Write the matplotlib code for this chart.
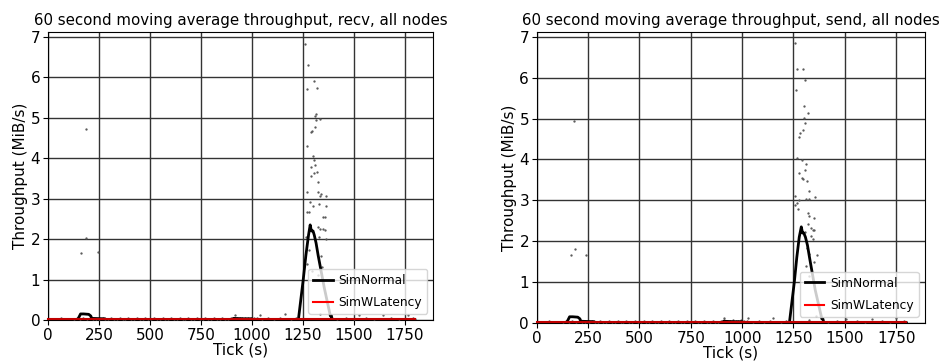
"""
60 second moving average throughput, recv and send, all nodes
"""

import matplotlib
matplotlib.use('Agg')
import matplotlib.pyplot as plt
import numpy as np

# moving average line, SimNormal
recvTicks = [0, 140, 150, 160, 175, 200, 210, 215, 280, 285, 900, 910, 960, 1000, 1010,
             1228, 1240, 1252, 1265, 1278, 1286, 1292, 1300, 1306, 1315, 1325, 1340, 1355,
             1370, 1385, 1390, 1395, 1800]
recvAvg = [0, 0, 0.05, 0.15, 0.15, 0.14, 0.1, 0.04, 0.03, 0, 0, 0.04, 0.03, 0.03, 0,
           0, 0.5, 1.0, 1.6, 2.1, 2.35, 2.2, 2.2, 2.1, 1.9, 1.6, 1.2, 0.8,
           0.45, 0.1, 0.1, 0, 0]
sendTicks = [0, 140, 150, 160, 175, 200, 210, 215, 280, 285, 900, 910, 960, 1000, 1010,
             1230, 1242, 1254, 1266, 1278, 1288, 1294, 1300, 1308, 1318, 1328, 1342, 1356,
             1372, 1388, 1393, 1398, 1800]
sendAvg = [0, 0, 0.05, 0.15, 0.15, 0.14, 0.1, 0.04, 0.03, 0, 0, 0.04, 0.03, 0.03, 0,
           0, 0.5, 1.0, 1.6, 2.1, 2.35, 2.2, 2.2, 2.1, 1.9, 1.6, 1.2, 0.8,
           0.45, 0.1, 0.1, 0, 0]

# moving average line, SimWLatency
latTicks = [0, 1800]
latAvg = [0.02, 0.02]

# instantaneous samples (dots)
recvDotT = [1261, 1275, 1304, 1270, 1319, 1316, 1311, 1336, 1314, 1308, 1288, 1293, 1271,
            1298, 1303, 1309, 1291, 1303, 1319, 1291, 1324, 1271, 1322, 1340, 1336, 1365,
            1283, 1327, 1362, 1298, 1270, 1278, 1347, 1357, 1324, 1332, 1349, 1357, 1265,
            1329, 1365, 1280, 1340, 1270, 1345, 1294, 1324, 1332, 1390,
            186, 188, 164, 245, 918, 1038, 1161, 1526, 1643, 1765]
recvDotV = [6.83, 6.30, 5.90, 5.71, 5.74, 5.08, 5.04, 4.97, 4.93, 4.76, 4.64, 4.66, 4.29,
            4.06, 3.96, 3.82, 3.77, 3.64, 3.65, 3.55, 3.40, 3.17, 3.17, 3.12, 3.06, 3.06,
            2.92, 2.87, 2.82, 2.81, 2.68, 2.66, 2.55, 2.54, 2.29, 2.26, 2.25, 2.23, 2.06,
            2.04, 2.01, 1.72, 1.57, 1.39, 1.32, 1.20, 1.12, 0.14, 0.12,
            4.72, 2.03, 1.66, 1.68, 0.13, 0.13, 0.15, 0.12, 0.12, 0.13]
sendDotT = [1255, 1266, 1294, 1306, 1261, 1302, 1321, 1302, 1305, 1295, 1282, 1277, 1265,
            1290, 1311, 1305, 1279, 1290, 1297, 1315, 1327, 1353, 1258, 1313, 1324, 1266,
            1277, 1258, 1271, 1319, 1326, 1348, 1323, 1335, 1343, 1352, 1306, 1337, 1343,
            1316, 1366, 1324, 1350, 1310, 1327, 1361,
            182, 187, 166, 242, 911, 1027, 1150, 1326, 1508, 1630, 1747]
sendDotV = [6.84, 6.22, 6.20, 5.94, 5.69, 5.30, 5.14, 5.01, 4.89, 4.73, 4.64, 4.56, 4.03,
            3.98, 3.89, 3.75, 3.66, 3.55, 3.53, 3.46, 3.23, 3.09, 3.10, 3.02, 3.02, 2.94,
            3.01, 2.88, 2.78, 2.68, 2.61, 2.56, 2.42, 2.32, 2.28, 2.28, 2.22, 2.12, 2.05,
            1.83, 1.66, 1.68, 1.50, 1.40, 1.15, 0.16,
            4.93, 1.82, 1.67, 1.67, 0.12, 0.11, 0.12, 0.08, 0.10, 0.10, 0.12]

# low samples along the floor
floorT = [62, 130, 145, 158, 172, 190, 205, 222, 236, 252, 268, 282, 296, 310, 324, 338,
          352, 366, 380, 394, 408, 422, 436, 450, 464, 478, 492, 506, 520, 534, 548, 562,
          576, 590, 604, 618, 632, 646, 660, 674, 688, 702, 716, 730, 744, 758, 772, 786,
          800, 814, 828, 842, 856, 870, 884, 898, 912, 926, 940, 954, 968, 982, 996, 1010,
          1024, 1052, 1080, 1108, 1136, 1190, 1215, 1420, 1460, 1500, 1560, 1600, 1680,
          1720, 1790]
floorV = [0.05, 0.03, 0.04, 0.03, 0.04, 0.03, 0.04, 0.03, 0.03, 0.03, 0.04, 0.03, 0.03,
          0.04, 0.03, 0.03, 0.04, 0.03, 0.03, 0.04, 0.03, 0.03, 0.04, 0.03, 0.03, 0.04,
          0.03, 0.03, 0.04, 0.03, 0.03, 0.04, 0.03, 0.03, 0.04, 0.03, 0.03, 0.04, 0.03,
          0.03, 0.04, 0.03, 0.03, 0.04, 0.03, 0.03, 0.04, 0.03, 0.03, 0.04, 0.03, 0.03,
          0.04, 0.03, 0.03, 0.05, 0.06, 0.05, 0.04, 0.06, 0.05, 0.04, 0.06, 0.05, 0.04,
          0.03, 0.04, 0.03, 0.04, 0.03, 0.04, 0.03, 0.04, 0.03, 0.04, 0.03, 0.04, 0.03,
          0.04]

xTicks = [0, 250, 500, 750, 1000, 1250, 1500, 1750]


def drawPanel(ax, title, avgT, avgV, dotT, dotV):
    ax.plot(dotT, dotV, '.', ms=1.3, color='#555555', zorder=3)
    ax.plot(floorT, floorV, '.', ms=1.3, color='#555555', zorder=3)
    ax.plot(avgT, avgV, color='black', lw=2, label='SimNormal', zorder=4)
    ax.plot(latTicks, latAvg, color='#c00000', lw=1.5, label='SimWLatency', zorder=5,
            clip_on=False)
    ax.set_xlim(0, 1890)
    ax.set_ylim(0, 7.12)
    ax.set_xticks(xTicks)
    ax.set_yticks(range(0, 8))
    ax.grid(True, color='#333333', lw=1)
    ax.set_axisbelow(True)
    ax.set_title(title, fontsize=10.8, pad=5)
    ax.set_xlabel('Tick (s)', fontsize=11, labelpad=0)
    ax.set_ylabel('Throughput (MiB/s)', fontsize=11, labelpad=2)
    ax.tick_params(labelsize=11, pad=2)
    leg = ax.legend(loc='lower right', fontsize=8.8, framealpha=0.8, labelspacing=0.75,
                    handlelength=1.6, handletextpad=0.5, borderpad=0.4)
    leg.get_lines()[1].set_color('red')


def main():
    fig = plt.figure(figsize=(9.4, 3.62), dpi=100)
    ax1 = fig.add_axes([0.051, 0.116, 0.410, 0.796])
    ax2 = fig.add_axes([0.571, 0.108, 0.413, 0.804])
    drawPanel(ax1, '60 second moving average throughput, recv, all nodes',
              recvTicks, recvAvg, recvDotT, recvDotV)
    drawPanel(ax2, '60 second moving average throughput, send, all nodes',
              sendTicks, sendAvg, sendDotT, sendDotV)
    plt.savefig('out.png', dpi=100)


if __name__ == '__main__':
    main()
